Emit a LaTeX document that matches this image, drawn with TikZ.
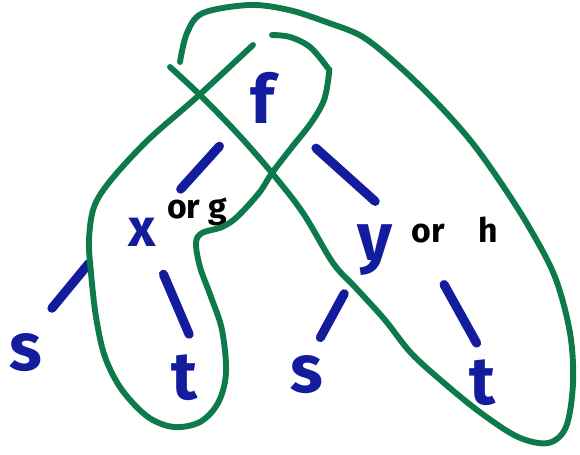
\documentclass[tikz,border=0pt]{standalone}
\usepackage{fontspec}
\setmainfont{Fira Sans}
\usetikzlibrary{calc}
\definecolor{inkblue}{RGB}{20,28,158}
\definecolor{inkgreen}{RGB}{14,122,76}

\begin{document}
\begin{tikzpicture}[x=0.25mm,y=-0.25mm,
  var/.style={inkblue,inner sep=0pt,font=\fontsize{48}{48}\selectfont\bfseries},
  note/.style={black,inner sep=0pt,font=\fontsize{24}{24}\selectfont\bfseries},
  branch/.style={inkblue,line width=6.5pt,line cap=round},
  ring/.style={inkgreen,line width=4.2pt,line cap=round,smooth,tension=0.55}]
  \useasboundingbox (0,0) rectangle (580,455);
  % the tree
  \node[var] (f) at (263,98) {f};
  \node[var,font=\fontsize{38}{38}\selectfont\bfseries] (x) at (142,232) {x};
  \node[var] (y) at (375,250) {y};
  \node[var] (s1) at (26,353) {s};
  \node[var] (t1) at (185,378) {t};
  \node[var] (s2) at (307,375) {s};
  \node[var] (t2) at (483,383) {t};
  \node[note] (orG) at (197,212) {or g};
  \node[note] (orH) at (455,230) {or\quad h};
  % branches, drawn short
  \draw[branch] ($(f)!.36!(x)$) -- ($(f)!.68!(x)$);
  \draw[branch] ($(f)!.33!(y)+(16,0)$) -- ($(f)!.68!(y)+(36,0)$);
  \draw[branch] ($(x)!.26!(s1)+(-23,0)$) -- ($(x)!.63!(s1)+(-17,0)$);
  \draw[branch] ($(x)!.29!(t1)+(9,0)$) -- ($(x)!.70!(t1)+(17,0)$);
  \draw[branch] ($(y)!.35!(s2)+(-7,0)$) -- ($(y)!.70!(s2)+(-7,0)$);
  \draw[branch] ($(y)!.26!(t2)+(41,0)$) -- ($(y)!.70!(t2)+(26,0)$);
  % the two loops
  \draw[ring] plot coordinates {(253,45) (197,97) (148,140) (111,180) (94,207)
    (89,240) (91,273) (96,317) (105,357) (122,390) (148,417) (174,427)
    (200,422) (218,403) (226,373) (222,330) (211,297) (200,267) (196,243)
    (202,233) (222,227) (237,217) (259,193) (272,173) (292,147) (311,123)
    (324,100) (329,73) (327,67) (310,47) (290,37) (272,35)};
  \draw[ring] plot coordinates {(170,67) (200,95) (237,133) (272,173) (303,213)
    (333,263) (355,287) (385,320) (411,353) (444,383) (481,413) (518,437)
    (548,443) (566,427) (573,383) (570,333) (555,277) (529,227) (499,180)
    (470,140) (437,103) (400,67) (363,37) (326,22) (289,10) (250,5) (203,13)
    (187,33) (180,62)};
\end{tikzpicture}
\end{document}
